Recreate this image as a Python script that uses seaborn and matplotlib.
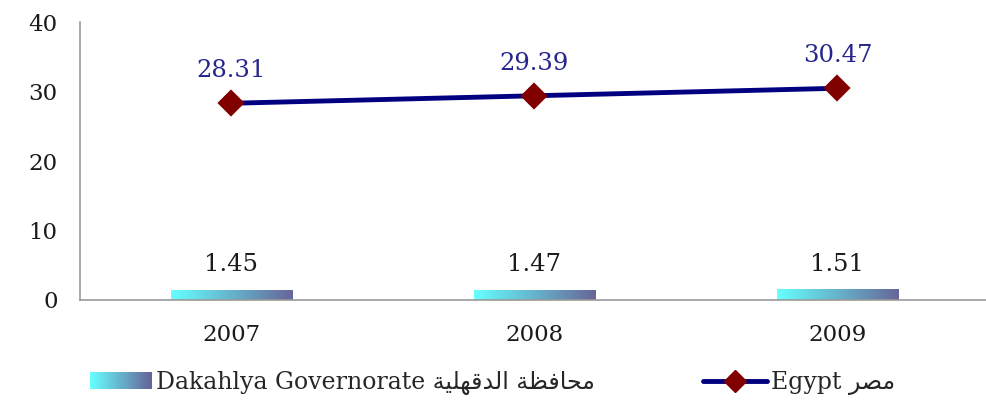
import numpy as np
import pandas as pd
import matplotlib
matplotlib.use('Agg')
import matplotlib.pyplot as plt
import seaborn as sns
from matplotlib.colors import LinearSegmentedColormap
from matplotlib.legend_handler import HandlerBase
from matplotlib.patches import Rectangle
from matplotlib.lines import Line2D

years = ['2007', '2008', '2009']
dakahlya = [1.45, 1.47, 1.51]
egypt = [28.31, 29.39, 30.47]

# arabic text given in presentation forms, visual order (no shaping in matplotlib)
ar_dakahlya = '\uFE94\uFEF4\uFEE0\uFEEC\uFED7\uFEAA\uFEDF\uFE8D \uFE94\uFEC8\uFED3\uFE8E\uFEA4\uFEE3'
ar_egypt = '\uFEAE\uFEBC\uFEE3'
label_bar = 'Dakahlya Governorate ' + ar_dakahlya
label_line = 'Egypt ' + ar_egypt

df = pd.DataFrame({'year': years, 'dakahlya': dakahlya, 'egypt': egypt})

sns.set_style('white')
plt.rcParams['font.family'] = ['DejaVu Serif', 'DejaVu Sans']

grad = LinearSegmentedColormap.from_list('g', ['#66FFFF', '#666699'])
navy = '#000080'
maroon = '#800000'
FS = 16.5
FS_LAB = 17.5
FS_LEG = 17

fig = plt.figure(figsize=(9.86, 4.01), dpi=100)
ax = fig.add_axes([0.081, 0.252, 0.922, 0.693])

sns.barplot(data=df, x='year', y='dakahlya', ax=ax, width=0.4, color='#66CCCC',
            errorbar=None)
sns.pointplot(data=df, x='year', y='egypt', ax=ax, color=navy, markers='D',
              errorbar=None, linewidth=3.5, markersize=11)

for ln in ax.lines:
    ln.set_markerfacecolor(maroon)
    ln.set_markeredgecolor(maroon)
    ln.set_zorder(5)

# gradient fill for bars
g = np.linspace(0, 1, 256).reshape(1, -1)
for p in ax.patches:
    x0, y0 = p.get_x(), p.get_y()
    w, h = p.get_width(), p.get_height()
    im = ax.imshow(g, cmap=grad, extent=[x0, x0 + w, y0, y0 + h], aspect='auto', zorder=2)
    im.set_clip_path(p)
    p.set_facecolor('none')
    p.set_edgecolor('none')

for i, v in enumerate(dakahlya):
    ax.annotate(f'{v:.2f}', (i, v), xytext=(0, 10), textcoords='offset points',
                ha='center', va='bottom', fontsize=FS_LAB, color='#1a1a1a')
for i, v in enumerate(egypt):
    ax.annotate(f'{v:.2f}', (i, v), xytext=(0, 15), textcoords='offset points',
                ha='center', va='bottom', fontsize=FS_LAB, color='#26268c')

ax.set_xlim(-0.5, 2.5)
ax.set_ylim(0, 40)
ax.set_yticks([0, 10, 20, 30, 40])
ax.set_xlabel('')
ax.set_ylabel('')

ax.set_xticks([-0.5, 0.5, 1.5, 2.5], minor=True)
ax.tick_params(axis='x', which='major', length=0, pad=17, labelsize=FS, colors='#1a1a1a')
ax.tick_params(axis='x', which='minor', length=7, width=1.2, color='#999999', direction='out')
ax.tick_params(axis='y', length=7, width=1.2, color='#999999', direction='out',
               labelsize=FS, labelcolor='#1a1a1a', pad=9)

for s in ['top', 'right']:
    ax.spines[s].set_visible(False)
for s in ['left', 'bottom']:
    ax.spines[s].set_color('#999999')
    ax.spines[s].set_linewidth(1.2)


class GradHandler(HandlerBase):
    def create_artists(self, legend, orig_handle, xdescent, ydescent, width, height, fontsize, trans):
        n = 40
        arts = []
        for k in range(n):
            r = Rectangle((-xdescent + width * k / n, -ydescent), width / n + 0.3, height,
                          facecolor=grad(k / (n - 1)), edgecolor='none', transform=trans)
            arts.append(r)
        return arts


bar_handle = Rectangle((0, 0), 1, 1)
line_handle = Line2D([], [], color=navy, lw=3.5, marker='D', ms=11,
                     markerfacecolor=maroon, markeredgecolor=maroon)

fig.legend([bar_handle], [label_bar], handler_map={Rectangle: GradHandler()},
           loc='center left', bbox_to_anchor=(0.091, 0.045), frameon=False,
           fontsize=FS_LEG, handlelength=2.6, handletextpad=0.2, borderpad=0, borderaxespad=0)
fig.legend([line_handle], [label_line],
           loc='center left', bbox_to_anchor=(0.713, 0.045), frameon=False,
           fontsize=FS_LEG, handlelength=2.7, handletextpad=0.2, borderpad=0, borderaxespad=0)

fig.savefig('out.png', dpi=100)
